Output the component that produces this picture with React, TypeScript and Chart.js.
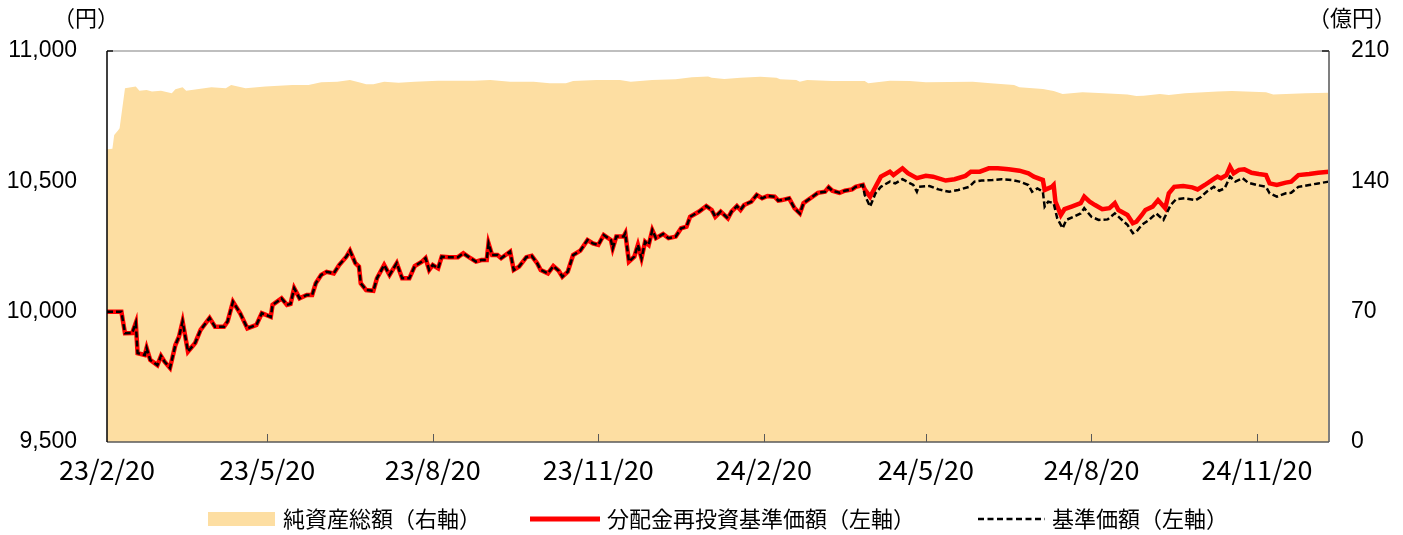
import React, { useEffect, useRef } from "react";
import { Chart, registerables } from "chart.js";

Chart.register(...registerables);

// ---- axis / tick data ----
const startDate = "2023-02-20";
const endDate = "2024-12-30";
const tickDates = ["2023-02-20", "2023-05-20", "2023-08-20", "2023-11-20", "2024-02-20", "2024-05-20", "2024-08-20", "2024-11-20"];
const tickLabels = ["23/2/20", "23/5/20", "23/8/20", "23/11/20", "24/2/20", "24/5/20", "24/8/20", "24/11/20"];
const leftTicks = [9500, 10000, 10500, 11000];
const rightTicks = [0, 70, 140, 210];
const legendLabels = ["純資産総額（右軸）", "分配金再投資基準価額（左軸）", "基準価額（左軸）"];
const leftUnit = "（円）";
const rightUnit = "（億円）";

// ---- net assets (億円, right axis) ----
const assetDates = [
  "2023-02-20", "2023-02-23", "2023-02-24", "2023-02-26", "2023-02-27", "2023-03-02", "2023-03-08", "2023-03-10",
  "2023-03-14", "2023-03-17", "2023-03-22", "2023-03-28", "2023-03-30", "2023-04-03", "2023-04-05", "2023-04-12",
  "2023-04-19", "2023-04-27", "2023-04-30", "2023-05-08", "2023-05-19", "2023-06-03", "2023-06-12", "2023-06-19",
  "2023-06-28", "2023-07-05", "2023-07-11", "2023-07-14", "2023-07-18", "2023-07-24", "2023-08-01", "2023-08-10",
  "2023-08-23", "2023-09-12", "2023-09-21", "2023-10-02", "2023-10-15", "2023-10-24", "2023-11-02", "2023-11-06",
  "2023-11-19", "2023-12-02", "2023-12-08", "2023-12-20", "2024-01-02", "2024-01-11", "2024-01-20", "2024-01-22",
  "2024-01-29", "2024-02-07", "2024-02-18", "2024-02-27", "2024-02-29", "2024-03-09", "2024-03-11", "2024-03-15",
  "2024-03-29", "2024-04-16", "2024-04-18", "2024-04-30", "2024-05-11", "2024-05-20", "2024-06-15", "2024-06-25",
  "2024-07-08", "2024-07-11", "2024-07-24", "2024-07-30", "2024-08-04", "2024-08-15", "2024-08-27", "2024-09-09",
  "2024-09-14", "2024-09-18", "2024-09-27", "2024-10-02", "2024-10-11", "2024-10-29", "2024-11-06", "2024-11-25",
  "2024-11-29", "2024-12-17", "2024-12-30",
];
const assetValues = [
  157.2, 157.5, 164.9, 167.2, 168.5, 190.0, 190.9, 188.7,
  189.1, 188.2, 188.7, 187.3, 189.4, 190.5, 188.7, 189.6,
  190.5, 190.0, 191.7, 190.0, 190.9, 191.7, 191.7, 193.2,
  193.5, 194.4, 193.0, 192.1, 192.1, 193.5, 193.0, 193.5,
  194.0, 194.0, 194.4, 193.5, 193.5, 192.7, 192.7, 193.9,
  194.4, 194.4, 193.5, 194.4, 194.8, 195.9, 196.3, 195.7,
  195.0, 195.7, 196.2, 195.7, 194.8, 194.4, 193.5, 194.4,
  193.9, 193.9, 192.7, 194.0, 193.9, 193.2, 193.5, 192.7,
  191.7, 190.5, 189.6, 188.5, 186.9, 187.8, 187.3, 186.7,
  185.8, 186.0, 186.9, 186.4, 187.3, 188.2, 188.5, 187.8,
  186.7, 187.3, 187.6,
];

// ---- both NAV series are identical until mid-April 2024 (円, left axis) ----
const commonDates = [
  "2023-02-20", "2023-02-28", "2023-03-02", "2023-03-06", "2023-03-08", "2023-03-09", "2023-03-13", "2023-03-14",
  "2023-03-16", "2023-03-20", "2023-03-22", "2023-03-24", "2023-03-27", "2023-03-30", "2023-04-01", "2023-04-03",
  "2023-04-06", "2023-04-10", "2023-04-13", "2023-04-18", "2023-04-21", "2023-04-26", "2023-04-28", "2023-05-01",
  "2023-05-05", "2023-05-09", "2023-05-14", "2023-05-17", "2023-05-22", "2023-05-23", "2023-05-28", "2023-05-31",
  "2023-06-02", "2023-06-04", "2023-06-07", "2023-06-11", "2023-06-14", "2023-06-16", "2023-06-19", "2023-06-22",
  "2023-06-26", "2023-06-29", "2023-07-03", "2023-07-05", "2023-07-08", "2023-07-10", "2023-07-11", "2023-07-14",
  "2023-07-18", "2023-07-20", "2023-07-24", "2023-07-27", "2023-07-31", "2023-08-03", "2023-08-07", "2023-08-10",
  "2023-08-14", "2023-08-16", "2023-08-18", "2023-08-20", "2023-08-23", "2023-08-25", "2023-08-29", "2023-09-03",
  "2023-09-06", "2023-09-10", "2023-09-13", "2023-09-16", "2023-09-19", "2023-09-20", "2023-09-22", "2023-09-25",
  "2023-09-27", "2023-10-02", "2023-10-04", "2023-10-07", "2023-10-11", "2023-10-14", "2023-10-17", "2023-10-19",
  "2023-10-23", "2023-10-26", "2023-10-29", "2023-10-31", "2023-11-03", "2023-11-06", "2023-11-10", "2023-11-14",
  "2023-11-17", "2023-11-20", "2023-11-23", "2023-11-27", "2023-11-28", "2023-11-30", "2023-12-04", "2023-12-05",
  "2023-12-07", "2023-12-10", "2023-12-12", "2023-12-14", "2023-12-16", "2023-12-18", "2023-12-20", "2023-12-22",
  "2023-12-26", "2023-12-29", "2024-01-02", "2024-01-05", "2024-01-08", "2024-01-10", "2024-01-15", "2024-01-19",
  "2024-01-22", "2024-01-24", "2024-01-27", "2024-01-31", "2024-02-02", "2024-02-05", "2024-02-07", "2024-02-09",
  "2024-02-13", "2024-02-16", "2024-02-19", "2024-02-22", "2024-02-26", "2024-02-28", "2024-03-01", "2024-03-05",
  "2024-03-08", "2024-03-11", "2024-03-13", "2024-03-18", "2024-03-21", "2024-03-25", "2024-03-27", "2024-03-29",
  "2024-04-02", "2024-04-05", "2024-04-09", "2024-04-11", "2024-04-15",
];
const commonValues = [
  10000, 10000, 9917, 9918, 9957, 9841, 9834, 9861,
  9815, 9795, 9830, 9808, 9784, 9872, 9904, 9962,
  9847, 9880, 9930, 9976, 9942, 9942, 9962, 10038,
  9994, 9936, 9949, 9994, 9980, 10026, 10051, 10026,
  10030, 10090, 10051, 10064, 10064, 10109, 10141, 10153,
  10147, 10179, 10211, 10234, 10186, 10173, 10109, 10083,
  10080, 10128, 10179, 10141, 10186, 10128, 10128, 10175,
  10192, 10205, 10160, 10179, 10166, 10211, 10209, 10209,
  10224, 10205, 10192, 10198, 10198, 10262, 10217, 10217,
  10205, 10230, 10160, 10173, 10209, 10214, 10186, 10160,
  10147, 10175, 10157, 10134, 10153, 10217, 10234, 10275,
  10262, 10256, 10294, 10275, 10243, 10288, 10288, 10301,
  10192, 10211, 10256, 10205, 10268, 10256, 10313, 10282,
  10298, 10282, 10288, 10320, 10326, 10364, 10384, 10405,
  10390, 10364, 10384, 10358, 10384, 10405, 10390, 10409,
  10422, 10448, 10435, 10444, 10441, 10426, 10428, 10435,
  10397, 10377, 10416, 10441, 10456, 10460, 10477, 10464,
  10456, 10464, 10469, 10479, 10486,
];

// ---- 分配金再投資基準価額, after the split ----
const reinvestDates = [
  "2024-04-16", "2024-04-19", "2024-04-22", "2024-04-25", "2024-04-30", "2024-05-02", "2024-05-07", "2024-05-10",
  "2024-05-15", "2024-05-20", "2024-05-24", "2024-05-31", "2024-06-05", "2024-06-11", "2024-06-14", "2024-06-19",
  "2024-06-24", "2024-06-29", "2024-07-05", "2024-07-11", "2024-07-16", "2024-07-19", "2024-07-24", "2024-07-25",
  "2024-07-29", "2024-07-30", "2024-07-31", "2024-08-03", "2024-08-05", "2024-08-09", "2024-08-14", "2024-08-16",
  "2024-08-19", "2024-08-22", "2024-08-26", "2024-08-30", "2024-09-02", "2024-09-04", "2024-09-09", "2024-09-12",
  "2024-09-14", "2024-09-17", "2024-09-19", "2024-09-23", "2024-09-26", "2024-09-30", "2024-10-02", "2024-10-05",
  "2024-10-10", "2024-10-15", "2024-10-18", "2024-10-22", "2024-10-26", "2024-10-29", "2024-10-31", "2024-11-03",
  "2024-11-05", "2024-11-07", "2024-11-10", "2024-11-13", "2024-11-17", "2024-11-21", "2024-11-25", "2024-11-27",
  "2024-12-01", "2024-12-06", "2024-12-09", "2024-12-13", "2024-12-19", "2024-12-24", "2024-12-30",
];
const reinvestValues = [
  10469, 10441, 10479, 10518, 10537, 10524, 10550, 10531,
  10512, 10521, 10518, 10503, 10508, 10521, 10537, 10537,
  10550, 10550, 10546, 10541, 10531, 10518, 10505, 10467,
  10479, 10486, 10422, 10371, 10393, 10403, 10416, 10441,
  10422, 10409, 10393, 10397, 10416, 10390, 10371, 10339,
  10345, 10371, 10390, 10403, 10428, 10397, 10454, 10479,
  10482, 10477, 10469, 10486, 10505, 10518, 10512, 10524,
  10556, 10531, 10544, 10546, 10533, 10528, 10524, 10492,
  10486, 10495, 10499, 10524, 10528, 10533, 10537,
];

// ---- 基準価額, after the split ----
const navDates = [
  "2024-04-16", "2024-04-19", "2024-04-22", "2024-04-25", "2024-04-30", "2024-05-03", "2024-05-07", "2024-05-13",
  "2024-05-15", "2024-05-16", "2024-05-22", "2024-05-27", "2024-06-02", "2024-06-07", "2024-06-13", "2024-06-16",
  "2024-06-20", "2024-06-26", "2024-07-01", "2024-07-07", "2024-07-11", "2024-07-16", "2024-07-18", "2024-07-21",
  "2024-07-24", "2024-07-25", "2024-07-27", "2024-07-30", "2024-08-01", "2024-08-04", "2024-08-06", "2024-08-10",
  "2024-08-14", "2024-08-16", "2024-08-20", "2024-08-24", "2024-08-29", "2024-09-02", "2024-09-05", "2024-09-09",
  "2024-09-12", "2024-09-14", "2024-09-17", "2024-09-21", "2024-09-25", "2024-09-29", "2024-10-03", "2024-10-06",
  "2024-10-11", "2024-10-17", "2024-10-20", "2024-10-23", "2024-10-27", "2024-10-30", "2024-11-02", "2024-11-05",
  "2024-11-08", "2024-11-12", "2024-11-15", "2024-11-20", "2024-11-25", "2024-11-27", "2024-12-01", "2024-12-06",
  "2024-12-09", "2024-12-13", "2024-12-19", "2024-12-24", "2024-12-30",
];
const navValues = [
  10448, 10403, 10454, 10479, 10499, 10492, 10508, 10486,
  10460, 10479, 10482, 10469, 10460, 10467, 10479, 10499,
  10503, 10505, 10508, 10505, 10499, 10486, 10460, 10473,
  10460, 10403, 10422, 10416, 10358, 10320, 10352, 10364,
  10377, 10397, 10364, 10352, 10354, 10377, 10358, 10333,
  10301, 10307, 10333, 10352, 10377, 10352, 10409, 10431,
  10435, 10428, 10441, 10460, 10479, 10464, 10473, 10518,
  10499, 10512, 10495, 10486, 10479, 10454, 10441, 10454,
  10456, 10479, 10486, 10492, 10499,
];

// ---- styles ----
const AREA = "#FDDEA2";
const RED = "#FF0000";
const JP = '"Noto Sans CJK JP", "Noto Sans", sans-serif';

const dayOf = (s: string) =>
  (Date.UTC(+s.slice(0, 4), +s.slice(5, 7) - 1, +s.slice(8, 10)) -
    Date.UTC(+startDate.slice(0, 4), +startDate.slice(5, 7) - 1, +startDate.slice(8, 10))) /
  86400000;

const toPoints = (dates: string[], values: number[]) => dates.map((d, i) => ({ x: dayOf(d), y: values[i] }));

const overlayPlugin = {
  id: "overlay",
  afterDatasetsDraw(chart: any) {
    const { ctx, chartArea: a, scales } = chart;
    const seg = (x1: number, y1: number, x2: number, y2: number) => {
      ctx.beginPath();
      ctx.moveTo(x1, y1);
      ctx.lineTo(x2, y2);
      ctx.stroke();
    };
    ctx.save();
    // top border
    ctx.strokeStyle = "#BFBFBF";
    ctx.lineWidth = 2;
    seg(a.left, a.top, a.right, a.top);
    // right border
    ctx.strokeStyle = "#7F7F7F";
    ctx.lineWidth = 2;
    seg(a.right, a.top, a.right, a.bottom);
    // bottom axis
    ctx.strokeStyle = "#595959";
    ctx.lineWidth = 1.5;
    seg(a.left, a.bottom, a.right, a.bottom);
    // x ticks (inside)
    ctx.lineWidth = 1;
    tickDates.forEach((d, i) => {
      if (i === 0) return;
      const x = Math.round(scales.x.getPixelForValue(dayOf(d))) + 0.5;
      seg(x, a.bottom, x, a.bottom - 8);
    });
    // top ticks of the two value axes
    ctx.strokeStyle = "#404040";
    ctx.lineWidth = 2;
    seg(a.left, a.top, a.left + 6, a.top);
    seg(a.right - 7, a.top, a.right, a.top);
    // left axis
    ctx.strokeStyle = "#000000";
    ctx.lineWidth = 1.5;
    seg(a.left, a.top, a.left, a.bottom);
    ctx.restore();
  },
  afterDraw(chart: any) {
    const { ctx } = chart;
    ctx.save();
    ctx.fillStyle = "#000";
    ctx.textBaseline = "middle";
    ctx.font = `22px ${JP}`;
    ctx.textAlign = "center";
    ctx.fillText(leftUnit, 86, 18);
    ctx.fillText(rightUnit, 1352, 18);
    ctx.textAlign = "left";
    const ly = 519;
    // legend 1
    ctx.fillStyle = AREA;
    ctx.fillRect(208, ly - 7, 67, 14);
    ctx.fillStyle = "#000";
    ctx.fillText(legendLabels[0], 283, ly);
    // legend 2
    ctx.strokeStyle = RED;
    ctx.lineWidth = 5;
    ctx.beginPath();
    ctx.moveTo(530, ly);
    ctx.lineTo(600, ly);
    ctx.stroke();
    ctx.fillText(legendLabels[1], 607, ly);
    // legend 3
    ctx.strokeStyle = "#000";
    ctx.lineWidth = 2.5;
    ctx.setLineDash([6, 3.5]);
    ctx.beginPath();
    ctx.moveTo(978, ly);
    ctx.lineTo(1045, ly);
    ctx.stroke();
    ctx.setLineDash([]);
    ctx.fillText(legendLabels[2], 1052, ly);
    ctx.restore();
  },
};

export default function App() {
  const canvasRef = useRef<HTMLCanvasElement | null>(null);

  useEffect(() => {
    document.body.style.margin = "0";
    const canvas = canvasRef.current;
    if (!canvas) return;
    const chart = new Chart(canvas, {
      type: "line",
      data: {
        datasets: [
          {
            label: legendLabels[2],
            data: toPoints([...commonDates, ...navDates], [...commonValues, ...navValues]),
            yAxisID: "y",
            borderColor: "#000000",
            borderWidth: 2.5,
            borderDash: [6, 3],
            pointRadius: 0,
            tension: 0,
            fill: false,
            order: 1,
          },
          {
            label: legendLabels[1],
            data: toPoints([...commonDates, ...reinvestDates], [...commonValues, ...reinvestValues]),
            yAxisID: "y",
            borderColor: RED,
            borderWidth: 4.5,
            pointRadius: 0,
            tension: 0,
            fill: false,
            order: 2,
          },
          {
            label: legendLabels[0],
            data: toPoints(assetDates, assetValues),
            yAxisID: "y2",
            borderWidth: 0,
            borderColor: AREA,
            backgroundColor: AREA,
            pointRadius: 0,
            tension: 0,
            fill: "origin",
            order: 3,
          },
        ],
      },
      options: {
        animation: false,
        responsive: false,
        events: [],
        layout: { padding: { top: 51, left: 0, right: 0, bottom: 0 } },
        plugins: { legend: { display: false }, tooltip: { enabled: false }, title: { display: false } },
        scales: {
          x: {
            type: "linear",
            min: dayOf(startDate),
            max: dayOf(endDate),
            grid: { display: false, drawTicks: false },
            border: { display: false },
            afterBuildTicks: (scale: any) => {
              scale.ticks = tickDates.map((d) => ({ value: dayOf(d) }));
            },
            afterFit: (scale: any) => {
              scale.height = 93;
            },
            ticks: {
              autoSkip: false,
              maxRotation: 0,
              minRotation: 0,
              padding: 12,
              color: "#000",
              font: { family: JP, size: 27 },
              callback: (_v: any, i: number) => tickLabels[i],
            },
          },
          y: {
            position: "left",
            min: leftTicks[0],
            max: leftTicks[leftTicks.length - 1],
            grid: { display: false, drawTicks: false },
            border: { display: false },
            afterBuildTicks: (scale: any) => {
              scale.ticks = leftTicks.map((v) => ({ value: v }));
            },
            afterFit: (scale: any) => {
              scale.width = 107;
            },
            ticks: {
              padding: 30,
              color: "#000",
              font: { family: '"Liberation Sans", Arial, sans-serif', size: 23 },
              callback: (v: any) => Number(v).toLocaleString("en-US"),
            },
          },
          y2: {
            position: "right",
            min: rightTicks[0],
            max: rightTicks[rightTicks.length - 1],
            grid: { display: false, drawTicks: false },
            border: { display: false },
            afterBuildTicks: (scale: any) => {
              scale.ticks = rightTicks.map((v) => ({ value: v }));
            },
            afterFit: (scale: any) => {
              scale.width = 74;
            },
            ticks: {
              padding: 22,
              color: "#000",
              font: { family: '"Liberation Sans", Arial, sans-serif', size: 23 },
              callback: (v: any) => String(v),
            },
          },
        },
      },
      plugins: [overlayPlugin],
    });
    return () => chart.destroy();
  }, []);

  return (
    <div style={{ width: 1403, height: 535, overflow: "hidden" }}>
      <canvas ref={canvasRef} width={1403} height={535} style={{ display: "block" }} />
    </div>
  );
}
